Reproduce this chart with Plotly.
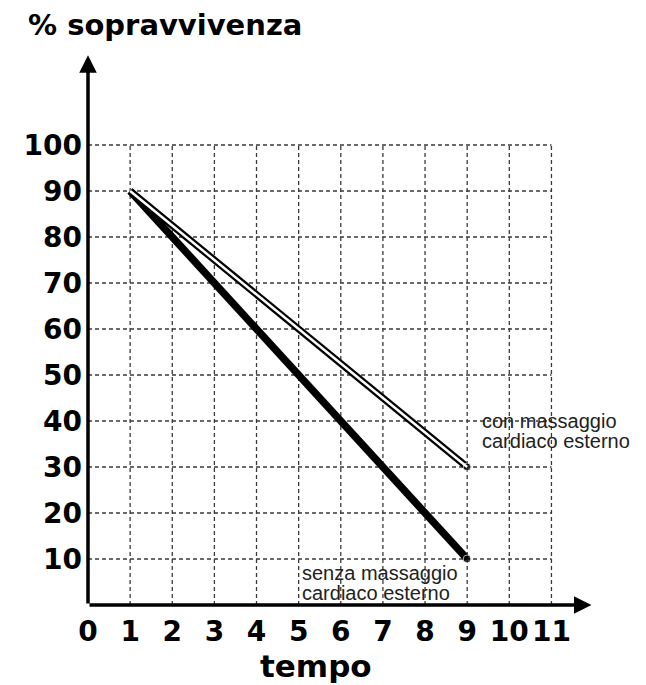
import plotly.graph_objects as go

# Data
tempo = [1, 9]
con_massaggio = [90, 30]
senza_massaggio = [90, 10]
x_ticks = list(range(0, 12))
y_ticks = list(range(10, 101, 10))
label_con = ["con massaggio", "cardiaco esterno"]
label_senza = ["senza massaggio", "cardiaco esterno"]

# page has an 8px body margin; figure sized to fit the window
OFF = 8
W, H = 646 - OFF, 685 - OFF
L, T = 88 - OFF, 53 - OFF
R = W - (601.6 - OFF)
B = H - (605 - OFF)
x_range = [0, 12.2]
y_range = [0, 120]
pw = W - L - R
ph = H - T - B


def paper_x(px):
    return (px - OFF - L) / pw


def paper_y(py):
    return (T + ph - (py - OFF)) / ph


fig = go.Figure()

# grid (dashed)
shapes = []
grid_line = dict(color="#3a3a3a", width=1.3, dash="4px,3px")
for xv in x_ticks[1:]:
    shapes.append(dict(type="line", xref="x", yref="y", x0=xv, x1=xv, y0=0, y1=max(y_ticks),
                       line=grid_line, layer="below"))
for yv in y_ticks:
    shapes.append(dict(type="line", xref="x", yref="y", x0=0, x1=max(x_ticks), y0=yv, y1=yv,
                       line=grid_line, layer="below"))

# senza massaggio: thick black line
fig.add_trace(go.Scatter(x=tempo, y=senza_massaggio, mode="lines+markers",
                         line=dict(color="black", width=7.5),
                         marker=dict(size=[0, 8], color="black"),
                         showlegend=False, hoverinfo="skip", cliponaxis=False))
# con massaggio: hollow double line
fig.add_trace(go.Scatter(x=tempo, y=con_massaggio, mode="lines+markers",
                         line=dict(color="black", width=7),
                         marker=dict(size=[0, 8], color="black"),
                         showlegend=False, hoverinfo="skip", cliponaxis=False))
fig.add_trace(go.Scatter(x=tempo, y=con_massaggio, mode="lines",
                         line=dict(color="white", width=2.5),
                         showlegend=False, hoverinfo="skip", cliponaxis=False))

annotations = []
# axis arrows
annotations.append(dict(x=11.95, y=0, ax=0, ay=0, xref="x", yref="y", axref="x", ayref="y",
                        showarrow=True, arrowhead=2, arrowsize=1, arrowwidth=3.5,
                        arrowcolor="black", text=""))
annotations.append(dict(x=0, y=119.5, ax=0, ay=0, xref="x", yref="y", axref="x", ayref="y",
                        showarrow=True, arrowhead=2, arrowsize=1, arrowwidth=3.5,
                        arrowcolor="black", text=""))

lab_font = dict(family="Liberation Sans, Arial", size=20, color="#222")
for i, t in enumerate(label_con):
    annotations.append(dict(x=paper_x(480), y=paper_y(421 + 20 * i), xref="paper", yref="paper",
                            text=t, showarrow=False, xanchor="left", yanchor="middle",
                            font=lab_font))
for i, t in enumerate(label_senza):
    annotations.append(dict(x=paper_x(300), y=paper_y(573 + 20 * i), xref="paper", yref="paper",
                            text=t, showarrow=False, xanchor="left", yanchor="middle",
                            font=lab_font))

annotations.append(dict(x=paper_x(26), y=paper_y(25), xref="paper", yref="paper",
                        text="% sopravvivenza", showarrow=False, xanchor="left", yanchor="middle",
                        font=dict(family="DejaVu Sans", size=29, color="black", weight="bold")))
annotations.append(dict(x=paper_x(316), y=paper_y(666), xref="paper", yref="paper",
                        text="tempo", showarrow=False, xanchor="center", yanchor="middle",
                        font=dict(family="DejaVu Sans", size=31, color="black", weight="bold")))

tick_font = dict(family="DejaVu Sans", size=28, color="black", weight="bold")
fig.update_layout(
    width=W, height=H, margin=dict(l=L, r=R, t=T, b=B, pad=0),
    paper_bgcolor="white", plot_bgcolor="white",
    shapes=shapes, annotations=annotations,
    xaxis=dict(range=x_range, tickvals=x_ticks, ticktext=[str(v) for v in x_ticks],
               showgrid=False, zeroline=False, showline=False, ticks="",
               tickfont=tick_font, ticklabelstandoff=7, fixedrange=True),
    yaxis=dict(range=y_range, tickvals=y_ticks, ticktext=[str(v) for v in y_ticks],
               showgrid=False, zeroline=False, showline=False, ticks="",
               tickfont=tick_font, ticklabelstandoff=5, fixedrange=True),
)

fig.write_html("out.html")
